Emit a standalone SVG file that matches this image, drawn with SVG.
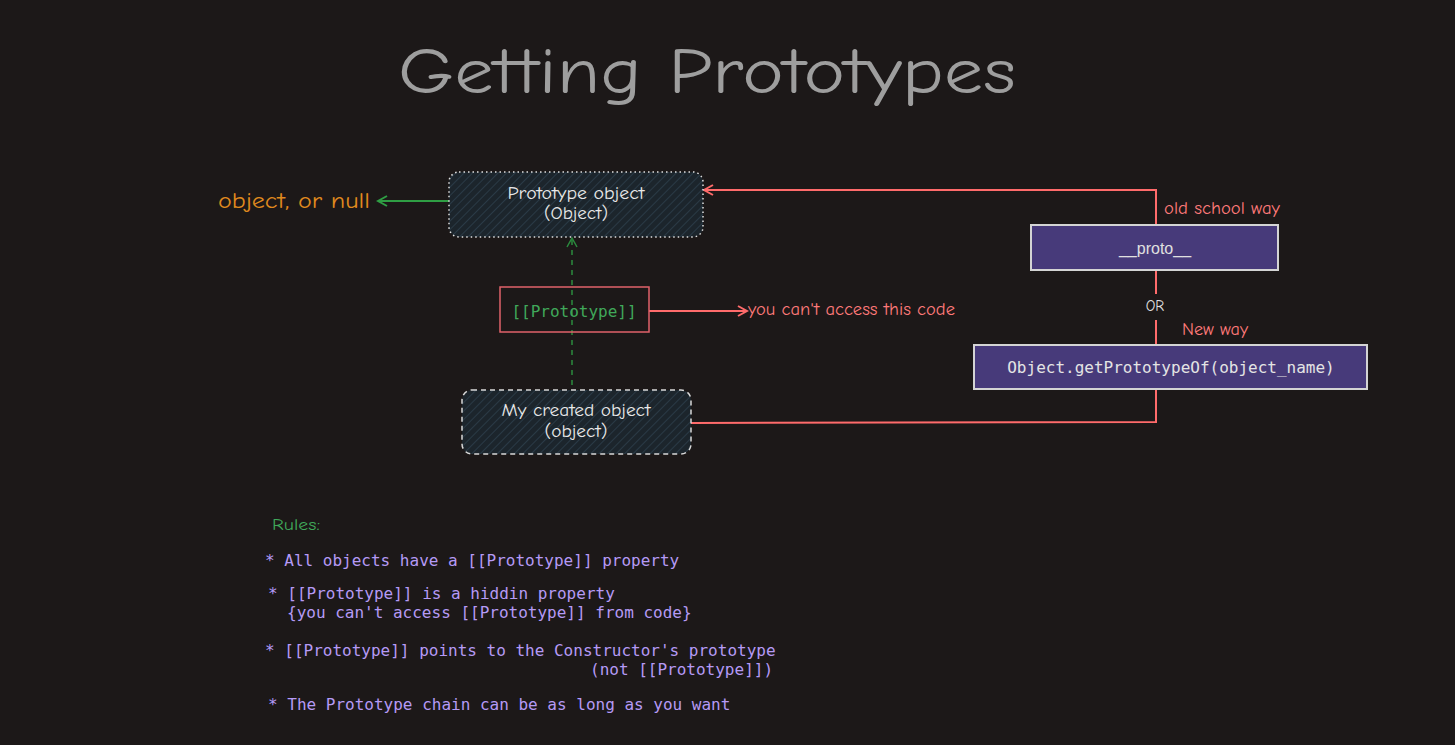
<svg xmlns="http://www.w3.org/2000/svg" width="1455" height="745" viewBox="0 0 1455 745">
<defs>
<pattern id="hatch" width="6" height="6" patternUnits="userSpaceOnUse" patternTransform="rotate(45)">
<rect width="6" height="6" fill="#1c252c"/>
<line x1="0" y1="0" x2="0" y2="6" stroke="#2a3a46" stroke-width="2"/>
</pattern>
<marker id="arrRed" markerWidth="12" markerHeight="12" refX="10" refY="6" orient="auto" markerUnits="userSpaceOnUse">
<path d="M1,1 L10,6 L1,11" fill="none" stroke="#ff6b6b" stroke-width="2"/>
</marker>
<marker id="arrGreen" markerWidth="12" markerHeight="12" refX="10" refY="6" orient="auto" markerUnits="userSpaceOnUse">
<path d="M1,1 L10,6 L1,11" fill="none" stroke="#2f9e44" stroke-width="2"/>
</marker>
<marker id="arrDkGreen" markerWidth="12" markerHeight="12" refX="10" refY="6" orient="auto" markerUnits="userSpaceOnUse">
<path d="M1,1 L10,6 L1,11" fill="none" stroke="#2b8a3e" stroke-width="1.5"/>
</marker>
</defs>
<style>
.hand{font-family:"Comic Neue","Liberation Sans","DejaVu Sans",sans-serif}
.mono{font-family:"DejaVu Sans Mono","Liberation Mono",monospace}
.node{fill:#e8e8e8;font-size:17px;text-anchor:middle}
.rule{fill:#b59af5;font-size:16px}
.red{fill:#ff7a7a;font-size:17px}
.purple{fill:#473a7a;stroke:#d4d4d4;stroke-width:2}
</style>
<rect width="1455" height="745" fill="#1c1818"/>

<text id="title" class="hand" x="707" y="93" font-size="64" fill="#9e9e9e" text-anchor="middle" textLength="618" lengthAdjust="spacingAndGlyphs">Getting Prototypes</text>

<g id="connectors">
<line x1="449" y1="201" x2="378" y2="201" stroke="#2f9e44" stroke-width="2" marker-end="url(#arrGreen)"/>
<line x1="572" y1="385" x2="572" y2="238" stroke="#2b8a3e" stroke-width="1.5" stroke-dasharray="5,5" marker-end="url(#arrDkGreen)"/>
<line x1="649" y1="311" x2="747" y2="311" stroke="#ff6b6b" stroke-width="2" marker-end="url(#arrRed)"/>
<polyline points="691,423 1156,422 1156,389" fill="none" stroke="#ff6b6b" stroke-width="2"/>
<line x1="1156" y1="345" x2="1156" y2="320" stroke="#ff6b6b" stroke-width="2"/>
<line x1="1156" y1="294" x2="1156" y2="270" stroke="#ff6b6b" stroke-width="2"/>
<polyline points="1156,226 1156,190 704,190" fill="none" stroke="#ff6b6b" stroke-width="2" marker-end="url(#arrRed)"/>
</g>

<g id="null-label">
<text class="hand" x="218" y="208" font-size="23" fill="#e08a1e" textLength="152" lengthAdjust="spacingAndGlyphs">object, or null</text>
</g>

<g id="prototype-object">
<rect x="449" y="172" width="254" height="65" rx="10" fill="url(#hatch)" stroke="#e0e0e0" stroke-width="1.5" stroke-dasharray="1.5,3"/>
<text class="hand node" x="576" y="199" textLength="137" lengthAdjust="spacingAndGlyphs">Prototype object</text>
<text class="hand node" x="576" y="219" textLength="64" lengthAdjust="spacingAndGlyphs">(Object)</text>
</g>

<g id="prototype-slot">
<rect x="500" y="287" width="149" height="45" fill="none" stroke="#e0616a" stroke-width="1.5"/>
<text class="mono" x="574" y="317" font-size="16" fill="#40a85a" text-anchor="middle">[[Prototype]]</text>
</g>

<g id="cant-access">
<text class="hand red" x="748" y="315" textLength="207" lengthAdjust="spacingAndGlyphs">you can't access this code</text>
</g>

<g id="created-object">
<rect x="462" y="390" width="229" height="64" rx="10" fill="url(#hatch)" stroke="#d8d8d8" stroke-width="1.5" stroke-dasharray="5,4"/>
<text class="hand node" x="576" y="416" textLength="149" lengthAdjust="spacingAndGlyphs">My created object</text>
<text class="hand node" x="576" y="437" textLength="63" lengthAdjust="spacingAndGlyphs">(object)</text>
</g>

<g id="proto">
<rect class="purple" x="1031" y="225" width="247" height="45"/>
<text x="1155" y="254" font-family="Liberation Sans, sans-serif" font-size="16" fill="#e0e0e0" text-anchor="middle">__proto__</text>
</g>

<g id="or-label">
<text x="1155" y="311" class="hand" font-size="15" fill="#e0e0e0" text-anchor="middle">OR</text>
</g>

<g id="old-school">
<text class="hand red" x="1164" y="214" textLength="116" lengthAdjust="spacingAndGlyphs">old school way</text>
</g>
<g id="new-way">
<text class="hand red" x="1182" y="335" textLength="66" lengthAdjust="spacingAndGlyphs">New way</text>
</g>

<g id="getPrototypeOf">
<rect class="purple" x="974" y="345" width="393" height="44"/>
<text class="mono" x="1171" y="373" font-size="16" fill="#e4e4e4" text-anchor="middle">Object.getPrototypeOf(object_name)</text>
</g>

<g id="rules">
<text class="hand" x="272" y="530" font-size="16" fill="#40a85a" textLength="48" lengthAdjust="spacingAndGlyphs">Rules:</text>
<text class="mono rule" x="265" y="566">* All objects have a [[Prototype]] property</text>
<text class="mono rule" x="268" y="599">* [[Prototype]] is a hiddin property</text>
<text class="mono rule" x="287" y="618">{you can't access [[Prototype]] from code}</text>
<text class="mono rule" x="265" y="656">* [[Prototype]] points to the Constructor's prototype</text>
<text class="mono rule" x="590" y="675">(not [[Prototype]])</text>
<text class="mono rule" x="268" y="710">* The Prototype chain can be as long as you want</text>
</g>
</svg>
